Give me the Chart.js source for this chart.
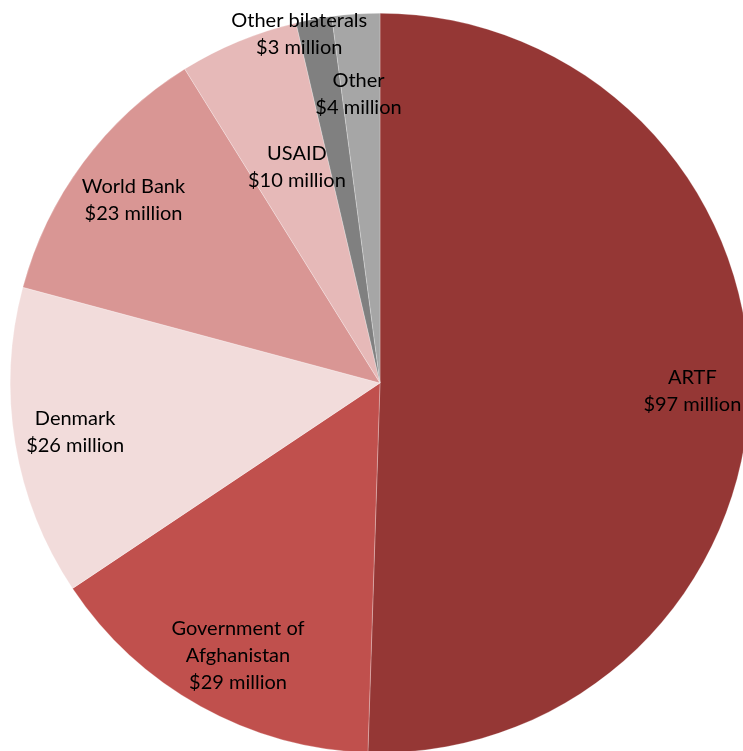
<!DOCTYPE html>
<html>
<head>
<meta charset="utf-8">
<script src="https://cdn.jsdelivr.net/npm/chart.js@4.4.1/dist/chart.umd.min.js"></script>
<style>
  html, body { margin: 0; padding: 0; background: #fff; overflow: hidden; }
  #wrap { position: absolute; left: 0; top: 0; width: 760px; height: 766px; }
</style>
</head>
<body>
<div id="wrap"><canvas id="pieChart"></canvas></div>
<script>
const sources = ["ARTF", "Government of Afghanistan", "Denmark", "World Bank", "USAID", "Other bilaterals", "Other"];
const amounts = [97, 29, 26, 23, 10, 3, 4];
const labelLines = [
  ["ARTF", "$97 million"],
  ["Government of", "Afghanistan", "$29 million"],
  ["Denmark", "$26 million"],
  ["World Bank", "$23 million"],
  ["USAID", "$10 million"],
  ["Other bilaterals", "$3 million"],
  ["Other", "$4 million"],
];

const colors = [
  "#953735", // ARTF
  "#c0504d", // Government
  "#f2dcdb", // Denmark
  "#d99694", // World Bank
  "#e6b9b8", // USAID
  "#808080", // Other bilaterals
  "#a6a6a6", // Other
];

// where each label sits: fraction of radius, and a small angle nudge (deg)
const labelPlace = [
  { r: 0.845, a: 0.5 },
  { r: 0.83, a: -1.5 },
  { r: 0.835, a: 0.3 },
  { r: 0.83, a: 0 },
  { r: 0.627, a: 1.5 },
  { r: 0.97, a: -2.7 },
  { r: 0.784, a: -0.5 },
];

const sliceLabels = {
  id: "sliceLabels",
  afterDatasetsDraw(chart) {
    const ctx = chart.ctx;
    const meta = chart.getDatasetMeta(0);
    ctx.save();
    ctx.font = "20px Lato, 'Open Sans', sans-serif";
    ctx.fillStyle = "#000";
    ctx.textAlign = "center";
    ctx.textBaseline = "middle";
    meta.data.forEach((arc, i) => {
      const p = labelPlace[i];
      const mid = (arc.startAngle + arc.endAngle) / 2 + p.a * Math.PI / 180;
      const x = arc.x + Math.cos(mid) * arc.outerRadius * p.r;
      const y = arc.y + Math.sin(mid) * arc.outerRadius * p.r;
      const lines = labelLines[i];
      const lh = 27;
      lines.forEach((line, j) => {
        ctx.fillText(line, x, y + (j - (lines.length - 1) / 2) * lh);
      });
    });
    ctx.restore();
  },
};

new Chart(document.getElementById("pieChart"), {
  type: "pie",
  data: {
    labels: sources,
    datasets: [{
      data: amounts,
      backgroundColor: colors,
      borderColor: "rgba(255,255,255,0.5)",
      borderWidth: 0.5,
    }],
  },
  options: {
    responsive: true,
    maintainAspectRatio: false,
    animation: false,
    layout: { padding: 10 },
    plugins: {
      legend: { display: false },
      tooltip: { enabled: false },
    },
  },
  plugins: [sliceLabels],
});
</script>
</body>
</html>
